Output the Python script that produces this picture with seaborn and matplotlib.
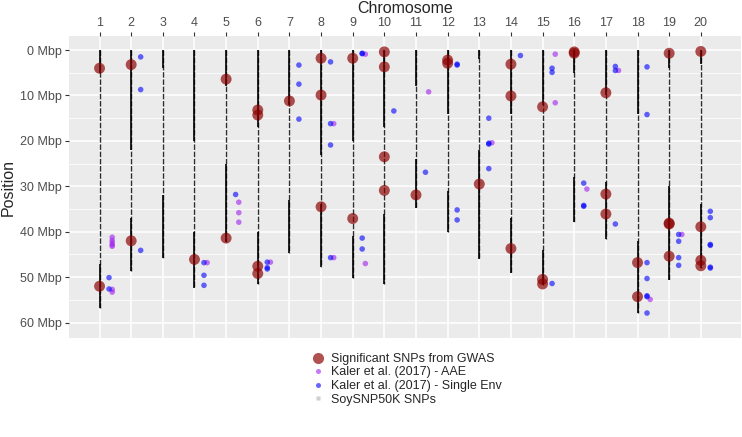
import numpy as np
import pandas as pd
import matplotlib
matplotlib.use("Agg")
import matplotlib.pyplot as plt
from matplotlib.lines import Line2D
import seaborn as sns

# --- Data (positions in Mbp) ---
chroms = list(range(1, 21))
chrom_len = [56.8, 48.6, 45.8, 52.4, 42.2, 51.4, 44.6, 47.8, 50.2, 51.6,
             34.8, 40.1, 45.9, 49.0, 51.8, 37.9, 41.6, 58.0, 50.6, 47.9]

# dense SNP stretches of the SoySNP50K panel (arms)
dense_chr = [1, 1, 2, 2, 3, 3, 4, 4, 5, 5, 6, 6, 7, 7, 8, 8, 9, 9, 10, 10,
             11, 11, 12, 12, 13, 13, 14, 14, 15, 15, 16, 16, 17, 17, 18, 18,
             19, 19, 20, 20]
dense_start = [0, 47, 0, 37, 0, 32, 0, 40, 0, 25, 0, 40, 0, 33, 0, 34, 0, 41, 0, 36,
               0, 24, 0, 31, 0, 22, 0, 37, 0, 44, 0, 28, 0, 29, 0, 42,
               0, 30, 0, 34]
dense_end = [5, 56.8, 22, 48.6, 4, 45.8, 20, 52.4, 8, 42.2, 17, 51.4, 12, 44.6, 23, 47.8,
             20, 50.2, 17, 51.6, 8, 34.8, 14, 40.1, 2, 45.9, 14, 49.0, 12, 51.8,
             5, 37.9, 10, 41.6, 14, 58.0, 4, 50.6, 3, 47.9]

gwas_chr = [1, 1, 2, 2, 4, 5, 5, 6, 6, 6, 6, 7, 8, 8, 8, 9, 9, 10, 10, 10, 10,
            11, 12, 12, 13, 14, 14, 14, 15, 15, 15, 16, 16, 17, 17, 17, 18, 18,
            19, 19, 19, 19, 20, 20, 20, 20]
gwas_pos = [4.0, 52.0, 3.2, 42.0, 46.1, 6.4, 41.4, 13.2, 14.3, 47.6, 49.2, 11.2,
            1.8, 9.9, 34.5, 1.8, 37.1, 0.4, 3.7, 23.5, 30.9,
            31.9, 2.2, 2.9, 29.5, 3.1, 10.1, 43.7, 12.5, 50.5, 51.5, 0.4, 0.7,
            9.4, 31.7, 36.1, 46.8, 54.3, 0.7, 38.1, 38.3, 45.4, 0.3, 38.9, 46.3, 47.5]

aae_chr = [1, 1, 1, 1, 1, 1, 1, 4, 5, 5, 5, 6, 8, 8, 9, 9, 11, 13, 15, 15,
           16, 17, 18, 19]
aae_pos = [41.2, 41.9, 42.4, 42.9, 43.2, 52.7, 53.3, 46.8, 33.5, 35.8, 37.9, 46.7,
           16.2, 45.7, 0.9, 47.0, 9.2, 20.4, 0.9, 11.6, 30.6, 4.5, 54.9, 40.6]

single_chr = [1, 1, 2, 2, 2, 4, 4, 4, 5, 6, 6, 6, 7, 7, 7, 8, 8, 8, 8, 9, 9, 9, 9,
              10, 11, 12, 12, 12, 12, 13, 13, 13, 13, 14, 15, 15, 15, 16, 16, 16,
              17, 17, 17, 18, 18, 18, 18, 18, 18, 18, 19, 19, 19, 19,
              20, 20, 20, 20, 20, 20]
single_pos = [50.1, 52.6, 1.5, 8.7, 44.1, 46.8, 49.6, 51.8, 31.8, 46.7, 47.9, 48.2,
              3.3, 7.5, 15.2, 2.6, 16.2, 20.9, 45.7, 0.7, 0.8, 41.4, 43.8,
              13.4, 26.9, 3.1, 3.3, 35.2, 37.4, 15.0, 20.5, 20.7, 26.1, 1.2, 4.0, 4.9,
              51.4, 29.3, 34.2, 34.4, 3.6, 4.5, 38.3, 3.7, 14.2, 46.8, 50.3, 54.1, 54.3,
              57.9, 40.6, 42.1, 45.7, 47.4, 35.5, 36.9, 42.8, 43.0, 47.8, 48.0]

gwas = pd.DataFrame({"chr": gwas_chr, "pos": gwas_pos})
aae = pd.DataFrame({"chr": np.array(aae_chr) + 0.4, "pos": aae_pos})
single = pd.DataFrame({"chr": np.array(single_chr) + 0.3, "pos": single_pos})
chrom_df = pd.DataFrame({"chr": chroms, "len": chrom_len})
dense_df = pd.DataFrame({"chr": dense_chr, "start": dense_start, "end": dense_end})

# --- Style ---
sns.set_theme(style="darkgrid", rc={
    "axes.facecolor": "#EBEBEB",
    "grid.color": "white",
    "axes.edgecolor": "#EBEBEB",
})
plt.rcParams["font.family"] = ["Liberation Sans", "DejaVu Sans"]

fig = plt.figure(figsize=(7.42, 4.37), dpi=100)
ax = fig.add_axes([69 / 742, 1 - 338 / 437, 672 / 742, 302 / 437])

# chromosome backbone: sparse SNP regions
ax.vlines(chrom_df["chr"], 0, chrom_df["len"], color="#2e2e2e", lw=1.0,
          linestyles=(0, (4, 1.2)), zorder=2)
# dense SNP regions
ax.vlines(dense_df["chr"], dense_df["start"], dense_df["end"], color="black",
          lw=1.2, zorder=3)

sns.scatterplot(data=gwas, x="chr", y="pos", ax=ax, color="#8B0000", alpha=0.68,
                s=62, edgecolor="none", zorder=5)
sns.scatterplot(data=aae, x="chr", y="pos", ax=ax, color="#A020F0", alpha=0.6,
                s=16, edgecolor="none", zorder=4)
sns.scatterplot(data=single, x="chr", y="pos", ax=ax, color="#0000FF", alpha=0.6,
                s=16, edgecolor="none", zorder=4)

ax.set_xlim(0.035, 21.27)
ax.set_ylim(63.4, -3.1)
ax.xaxis.tick_top()
ax.xaxis.set_label_position("top")
ax.set_xticks(chroms)
ax.set_xticklabels([str(c) for c in chroms])
yt = [0, 10, 20, 30, 40, 50, 60]
ax.set_yticks(yt)
ax.set_yticklabels([f"{v} Mbp" for v in yt])
ax.set_yticks([5, 15, 25, 35, 45, 55], minor=True)
ax.grid(which="major", color="white", lw=1.1)
ax.grid(which="minor", axis="y", color="white", lw=0.55)
ax.grid(which="minor", axis="x", visible=False)
ax.tick_params(axis="both", which="major", length=3, width=0.8, color="#333333",
               labelsize=9, labelcolor="#4D4D4D", pad=2)
ax.tick_params(axis="both", which="minor", length=0)
ax.tick_params(axis="x", top=True, bottom=False)
ax.tick_params(axis="y", left=True)
ax.set_xlabel("Chromosome", fontsize=11.5, labelpad=3)
ax.set_ylabel("Position", fontsize=11.5, labelpad=3)
for s in ax.spines.values():
    s.set_visible(False)

handles = [
    Line2D([], [], ls="", marker="o", ms=8, color="#8B0000", alpha=0.68, mec="none"),
    Line2D([], [], ls="", marker="o", ms=3.6, color="#A020F0", alpha=0.6, mec="none"),
    Line2D([], [], ls="", marker="o", ms=3.6, color="#0000FF", alpha=0.6, mec="none"),
    Line2D([], [], ls="", marker="s", ms=3, color="#CFCFCF", mec="none"),
]
labels = ["Significant SNPs from GWAS", "Kaler et al. (2017) - AAE",
          "Kaler et al. (2017) - Single Env", "SoySNP50K SNPs"]
fig.legend(handles, labels, loc="upper left", bbox_to_anchor=(310 / 742, 1 - 353 / 437),
           frameon=False, fontsize=9, labelspacing=0.12, handletextpad=0.45,
           handlelength=1.2, borderpad=0, borderaxespad=0)

fig.savefig("out.png", dpi=100)
